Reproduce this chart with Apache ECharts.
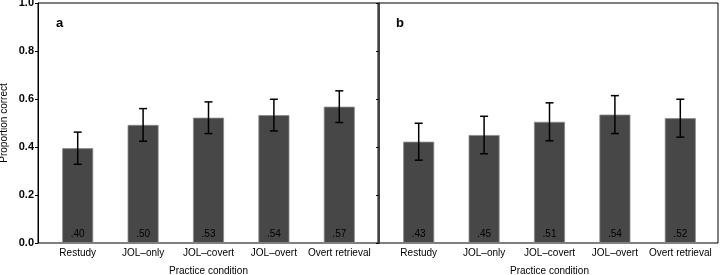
<!DOCTYPE html>
<html>
<head>
<meta charset="utf-8">
<script src="https://cdn.jsdelivr.net/npm/echarts@6/dist/echarts.min.js"></script>
<style>
  html, body { margin: 0; padding: 0; background: #fff; }
  #chart { width: 720px; height: 275px; }
</style>
</head>
<body>
<div id="chart"></div>
<script>
// practice conditions (same for both panels)
const categories = ['Restudy', 'JOL\u2013only', 'JOL\u2013covert', 'JOL\u2013overt', 'Overt retrieval'];

// panel a
const meansA = [0.395, 0.492, 0.522, 0.533, 0.568];
const errA = [0.067, 0.068, 0.066, 0.066, 0.066];
const labelsA = ['.40', '.50', '.53', '.54', '.57'];

// panel b
const meansB = [0.422, 0.450, 0.505, 0.535, 0.520];
const errB = [0.077, 0.078, 0.079, 0.079, 0.079];
const labelsB = ['.43', '.45', '.51', '.54', '.52'];

const font = 'Liberation Sans, Arial, Helvetica, sans-serif';

function errData(means, errs) {
  return means.map((m, i) => [i, m - errs[i], m + errs[i]]);
}

// error bar with caps, plus the value text at the foot of the bar
const renderErr = (labels) => (params, api) => {
  const lo = api.coord([api.value(0), api.value(1)]);
  const hi = api.coord([api.value(0), api.value(2)]);
  const base = api.coord([api.value(0), 0]);
  const cap = 4;
  const style = { stroke: '#000', lineWidth: 1.5 };
  return {
    type: 'group',
    children: [
      { type: 'line', shape: { x1: lo[0], y1: lo[1], x2: hi[0], y2: hi[1] }, style: style },
      { type: 'line', shape: { x1: hi[0] - cap, y1: hi[1], x2: hi[0] + cap, y2: hi[1] }, style: style },
      { type: 'line', shape: { x1: lo[0] - cap, y1: lo[1], x2: lo[0] + cap, y2: lo[1] }, style: style },
      {
        type: 'text',
        x: base[0], y: base[1] - 4,
        style: {
          text: labels[params.dataIndex], fill: '#000',
          font: '10px ' + font, align: 'center', verticalAlign: 'bottom'
        }
      }
    ]
  };
};

const chart = echarts.init(document.getElementById('chart'));

const innerX = (gi) => ({
  type: 'category',
  gridIndex: gi,
  data: categories,
  axisLine: { show: false },
  axisTick: { show: false },
  axisLabel: { color: '#000', fontSize: 10, fontFamily: font, margin: 5, interval: 0 },
  name: 'Practice condition',
  nameLocation: 'middle',
  nameGap: 23,
  nameTextStyle: { color: '#000', fontSize: 10, fontFamily: font }
});

const innerY = (gi) => ({
  type: 'value', gridIndex: gi, min: 0, max: 1, interval: 0.2, show: false
});

const frameX = (gi) => ({ type: 'value', gridIndex: gi, show: false });

const barSeries = (gi, means) => ({
  type: 'bar',
  xAxisIndex: gi,
  yAxisIndex: gi,
  barWidth: 31,
  data: means,
  itemStyle: { color: '#474747', borderColor: '#8a8a8a', borderWidth: 0.8 },
  silent: true
});

const errSeries = (gi, means, errs, labels) => ({
  type: 'custom',
  xAxisIndex: gi,
  yAxisIndex: gi,
  data: errData(means, errs),
  renderItem: renderErr(labels),
  z: 5,
  silent: true
});

const gridBase = { top: 3, bottom: 32, outerBoundsMode: 'none', containLabel: false };

chart.setOption({
  animation: false,
  title: [
    { text: 'a', left: 51, top: 12, textStyle: { fontSize: 13, fontWeight: 'bold', color: '#000', fontFamily: font } },
    { text: 'b', left: 391, top: 12, textStyle: { fontSize: 13, fontWeight: 'bold', color: '#000', fontFamily: font } }
  ],
  grid: [
    // bar areas (inset from the frames)
    Object.assign({ left: 45, right: 348 }, gridBase),
    Object.assign({ left: 386, right: 7 }, gridBase),
    // frames
    Object.assign({ left: 38, right: 342, show: true, borderColor: '#000', borderWidth: 1 }, gridBase),
    Object.assign({ left: 379, right: 2, show: true, borderColor: '#000', borderWidth: 1 }, gridBase)
  ],
  xAxis: [innerX(0), innerX(1), frameX(2), frameX(3)],
  yAxis: [
    innerY(0),
    innerY(1),
    {
      type: 'value', gridIndex: 2, min: 0, max: 1, interval: 0.2,
      splitLine: { show: false },
      axisLine: { show: true, lineStyle: { color: '#000', width: 1 } },
      axisTick: { show: true, length: 3, lineStyle: { color: '#000' } },
      axisLabel: {
        color: '#000', fontSize: 11, fontWeight: 'bold', fontFamily: font, margin: 4,
        formatter: (v) => v.toFixed(1)
      },
      name: 'Proportion correct',
      nameLocation: 'middle',
      nameRotate: 90,
      nameGap: 29,
      nameTextStyle: { color: '#000', fontSize: 10, fontFamily: font }
    },
    {
      type: 'value', gridIndex: 3, min: 0, max: 1, interval: 0.2,
      splitLine: { show: false },
      axisLine: { show: true, lineStyle: { color: '#444', width: 2 } },
      axisTick: { show: true, length: 3, lineStyle: { color: '#000' } },
      axisLabel: { show: false }
    }
  ],
  series: [
    barSeries(0, meansA),
    errSeries(0, meansA, errA, labelsA),
    barSeries(1, meansB),
    errSeries(1, meansB, errB, labelsB)
  ]
});
</script>
</body>
</html>
